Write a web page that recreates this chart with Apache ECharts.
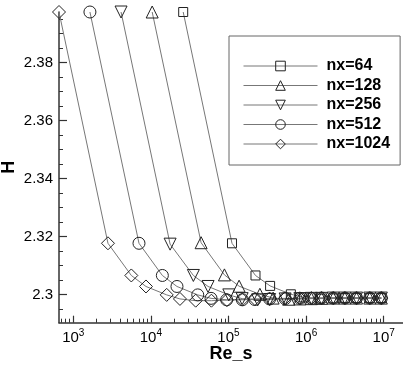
<!DOCTYPE html>
<html><head><meta charset="utf-8">
<script src="https://cdn.jsdelivr.net/npm/echarts@6/dist/echarts.min.js"></script>
<style>html,body{margin:0;padding:0;background:#fff}#c{width:403px;height:367px}</style>
</head><body><div id="c"></div>
<script>
// ---- data ----
const seriesNames = ['nx=64', 'nx=128', 'nx=256', 'nx=512', 'nx=1024'];
const re64 = [26100, 111000, 223000, 344000, 637000, 944000, 1500000, 2240000, 3160000, 4470000, 6610000, 9330000];
const h64 = [2.3975, 2.3177, 2.3066, 2.3030, 2.3001, 2.2990, 2.2986, 2.2987, 2.2988, 2.2988, 2.2988, 2.2988];
const re128 = [10400, 44400, 88700, 137000, 254000, 376000, 598000, 832000, 1170000, 1580000, 2240000, 3160000, 4470000, 6610000, 9330000];
const h128 = [2.3975, 2.3179, 2.3068, 2.3029, 2.3001, 2.2988, 2.2984, 2.2985, 2.2986, 2.2987, 2.2988, 2.2988, 2.2988, 2.2988, 2.2988];
const re256 = [4130, 17700, 35300, 54600, 101000, 150000, 238000, 339000, 537000, 832000, 1170000, 1580000, 2240000, 3160000, 4470000, 6610000, 9330000];
const h256 = [2.3975, 2.3174, 2.3066, 2.3028, 2.2999, 2.2986, 2.2982, 2.2983, 2.2985, 2.2986, 2.2987, 2.2987, 2.2988, 2.2988, 2.2988, 2.2988, 2.2988];
const re512 = [1640, 7030, 14060, 21700, 40200, 59600, 94800, 151000, 219000, 339000, 537000, 832000, 1170000, 1580000, 2240000, 3160000, 4470000, 6610000, 9330000];
const h512 = [2.3975, 2.3177, 2.3066, 2.3028, 2.2999, 2.2987, 2.2982, 2.2982, 2.2983, 2.2985, 2.2986, 2.2987, 2.2987, 2.2988, 2.2988, 2.2988, 2.2988, 2.2988, 2.2988];
const re1024 = [655, 2800, 5600, 8650, 16000, 23700, 37800, 60300, 95500, 151000, 219000, 339000, 537000, 832000, 1170000, 1580000, 2240000, 3160000, 4470000, 6610000, 9330000];
const h1024 = [2.3975, 2.3177, 2.3066, 2.3028, 2.2999, 2.2985, 2.2979, 2.2979, 2.2981, 2.2983, 2.2985, 2.2986, 2.2987, 2.2987, 2.2988, 2.2988, 2.2988, 2.2988, 2.2988, 2.2988, 2.2988];

// ---- ticks ----
const xMajorExp = [3, 4, 5, 6, 7];
const xMinorRe = [700, 800, 900, 2000, 3000, 4000, 5000, 6000, 7000, 8000, 9000,
  20000, 30000, 40000, 50000, 60000, 70000, 80000, 90000,
  200000, 300000, 400000, 500000, 600000, 700000, 800000, 900000,
  2000000, 3000000, 4000000, 5000000, 6000000, 7000000, 8000000, 9000000];
const yMajor = [2.30, 2.32, 2.34, 2.36, 2.38];
const yMinor = [2.295, 2.305, 2.31, 2.315, 2.325, 2.33, 2.335, 2.345, 2.35, 2.355, 2.365, 2.37, 2.375, 2.385, 2.39, 2.395];

const xMin = Math.log10(655), xMax = 7.249;
const yMin = 2.2903, yMax = 2.3975;

const FONT = '"Liberation Sans", Arial, Helvetica, sans-serif';
const AX = '#333';

const pairs = (re, h) => re.map((r, i) => [Math.log10(r), h[i]]);
const seriesDefs = [
  {name: seriesNames[0], re: re64, h: h64, symbol: 'rect', size: 9, rot: 0},
  {name: seriesNames[1], re: re128, h: h128, symbol: 'triangle', size: 12, rot: 0},
  {name: seriesNames[2], re: re256, h: h256, symbol: 'triangle', size: 12, rot: 180},
  {name: seriesNames[3], re: re512, h: h512, symbol: 'circle', size: 12, rot: 0},
  {name: seriesNames[4], re: re1024, h: h1024, symbol: 'diamond', size: 13, rot: 0}
];

const chart = echarts.init(document.getElementById('c'), null, {renderer: 'canvas'});
chart.setOption({
  animation: false,
  backgroundColor: '#fff',
  textStyle: {fontFamily: FONT},
  grid: {left: 59, right: 0, top: 12, bottom: 44.3, containLabel: false, outerBoundsMode: 'none'},
  legend: {
    orient: 'vertical', left: 229, top: 36,
    data: seriesNames,
    itemWidth: 74, itemHeight: 12, itemGap: 3.5,
    padding: [22, 10, 13, 14],
    borderColor: '#666', borderWidth: 1,
    itemStyle: {borderWidth: 1, borderColor: '#222'},
    lineStyle: {color: '#777', width: 1},
    textStyle: {fontFamily: FONT, fontWeight: 'bold', fontSize: 16, color: '#000', padding: [0, 0, 0, 4]}
  },
  xAxis: [{
    type: 'value', min: xMin, max: xMax, position: 'bottom',
    splitLine: {show: false},
    axisLine: {show: true, lineStyle: {color: AX, width: 1.5}},
    axisTick: {show: true, inside: true, length: 7, customValues: xMajorExp, lineStyle: {color: AX, width: 1.2}},
    axisLabel: {
      customValues: xMajorExp, margin: 6, color: '#000',
      formatter: v => '{b|10}{s|' + Math.round(v) + '}',
      rich: {b: {fontSize: 15, fontFamily: FONT, color: '#000'}, s: {fontSize: 10, fontFamily: FONT, color: '#000', padding: [0, 0, 8, 0]}}
    },
    name: 'Re_s', nameLocation: 'middle', nameGap: 22, nameMoveOverlap: false,
    nameTextStyle: {fontFamily: FONT, fontWeight: 'bold', fontSize: 18, color: '#000'}
  }, {
    type: 'value', min: xMin, max: xMax, position: 'bottom',
    splitLine: {show: false}, axisLine: {show: false},
    axisTick: {show: true, inside: true, length: 4, customValues: xMinorRe.map(v => Math.log10(v)), lineStyle: {color: AX, width: 1}},
    axisLabel: {show: false}
  }],
  yAxis: [{
    type: 'value', min: yMin, max: yMax, position: 'left',
    splitLine: {show: false},
    axisLine: {show: true, lineStyle: {color: AX, width: 1.5}},
    axisTick: {show: true, inside: true, length: 8, customValues: yMajor, lineStyle: {color: AX, width: 1.2}},
    axisLabel: {customValues: yMajor, margin: 6, fontSize: 15, color: '#000', fontFamily: FONT,
      formatter: v => String(Math.round(v * 100) / 100)},
    name: 'H', nameLocation: 'middle', nameRotate: 90, nameGap: 41, nameMoveOverlap: false,
    nameTextStyle: {fontFamily: FONT, fontWeight: 'bold', fontSize: 18, color: '#000'}
  }, {
    type: 'value', min: yMin, max: yMax, position: 'left',
    splitLine: {show: false}, axisLine: {show: false},
    axisTick: {show: true, inside: true, length: 4, customValues: yMinor, lineStyle: {color: AX, width: 1}},
    axisLabel: {show: false}
  }],
  series: seriesDefs.map(d => ({
    type: 'line', name: d.name,
    xAxisIndex: 0, yAxisIndex: 0,
    data: pairs(d.re, d.h),
    symbol: d.symbol, symbolSize: d.size, symbolRotate: d.rot,
    showAllSymbol: true, clip: false,
    lineStyle: {color: '#777', width: 1},
    itemStyle: {color: 'rgba(255,255,255,0)', borderColor: '#222', borderWidth: 1}
  }))
});
</script></body></html>
